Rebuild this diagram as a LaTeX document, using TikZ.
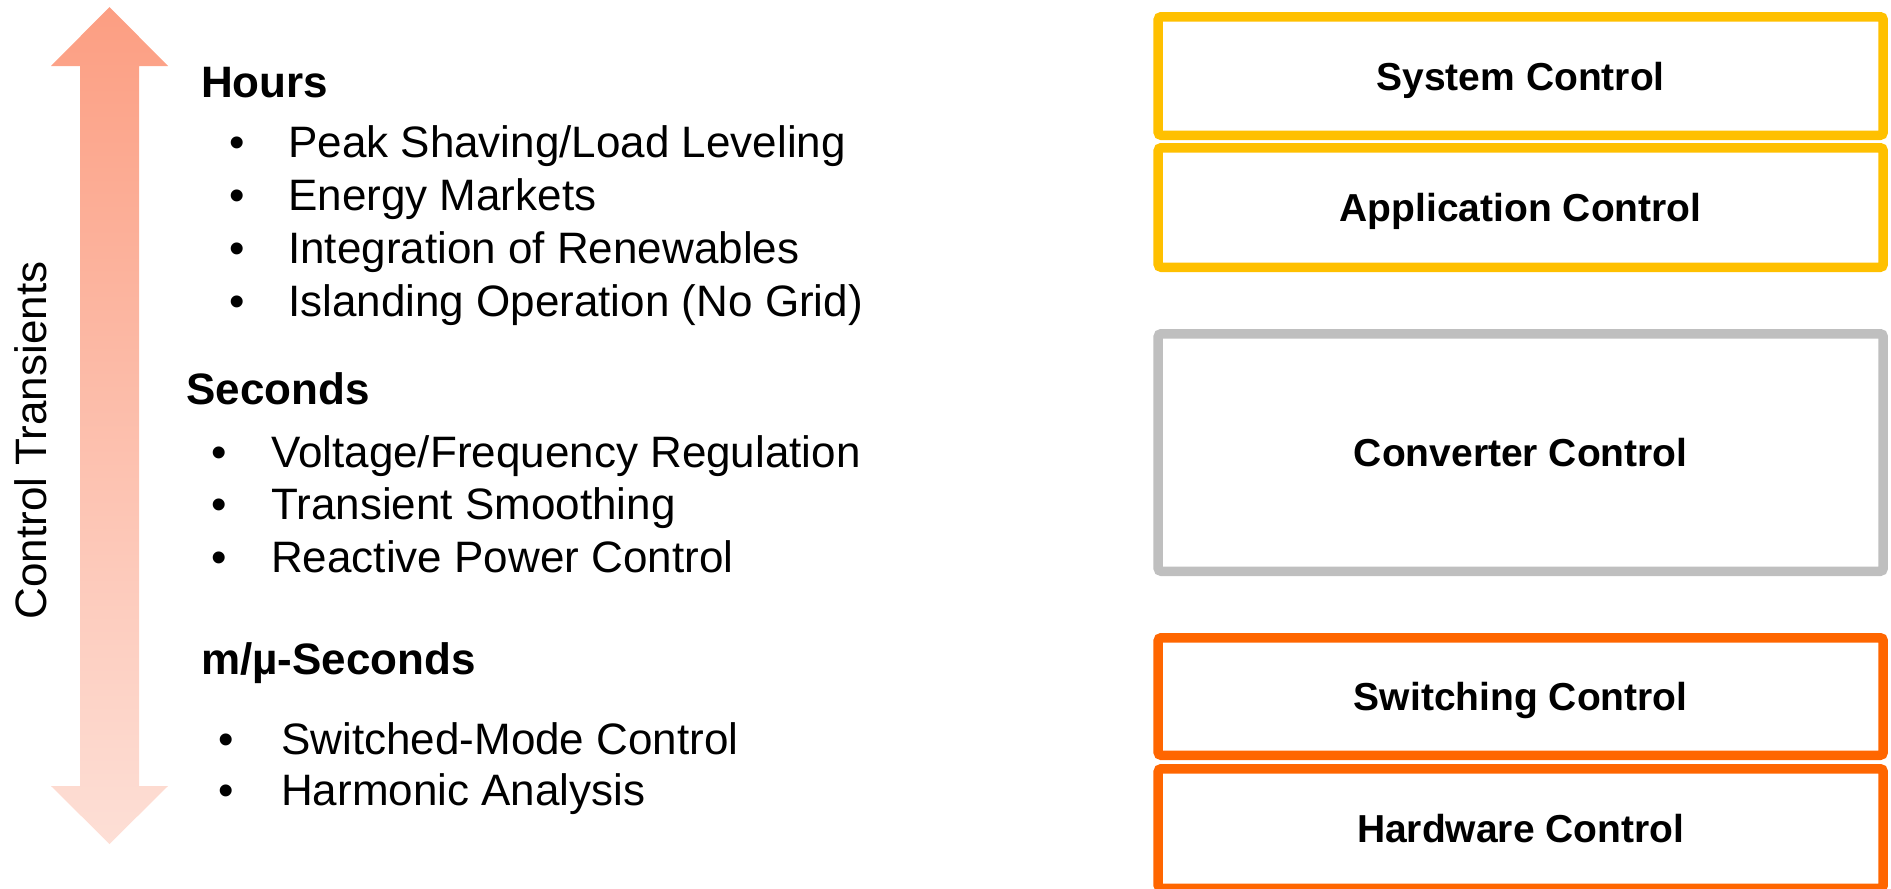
\documentclass[tikz,border=0pt]{standalone}
\usepackage{fontspec}
\setmainfont{Liberation Sans}
\definecolor{arrowtop}{RGB}{252,158,130}
\definecolor{arrowbot}{RGB}{253,223,214}
\definecolor{sysyellow}{RGB}{255,192,0}
\definecolor{convgray}{RGB}{191,191,191}
\definecolor{hworange}{RGB}{255,102,0}
\begin{document}
\begin{tikzpicture}[x=1pt,y=-1pt,
  heading/.style={anchor=base west, inner sep=0pt, font=\fontsize{44}{52}\selectfont\bfseries},
  item/.style={anchor=base west, inner sep=0pt, font=\fontsize{44}{52}\selectfont},
  bulletdot/.style={anchor=base, inner sep=0pt, font=\fontsize{44}{52}\selectfont},
  layer/.style={rectangle, rounded corners=3pt, draw=#1, line width=9.5pt,
    fill=white, minimum width=725pt, inner sep=0pt,
    text height=28pt, text depth=0pt,
    font=\bfseries\fontsize{39}{44}\selectfont},
]
\useasboundingbox (0,0) rectangle (1891,889);

% double-headed gradient arrow
\shade[top color=arrowtop, bottom color=arrowbot]
  (109.5,7) -- (168,66) -- (139,66) -- (139,786) -- (168,786) -- (109.5,844)
  -- (51,786) -- (80,786) -- (80,66) -- (51,66) -- cycle;
\node[rotate=90, anchor=base, inner sep=0pt, font=\fontsize{44}{52}\selectfont]
  (axis) at (46.5,440.5) {Control Transients};

% hours
\node[heading] (hours) at (201,97) {Hours};
\node[bulletdot] (hb1) at (237,157) {•};
\node[item] (h1) at (288,157) {Peak Shaving/Load Leveling};
\node[bulletdot] (hb2) at (237,210) {•};
\node[item] (h2) at (288,210) {Energy Markets};
\node[bulletdot] (hb3) at (237,263) {•};
\node[item] (h3) at (288,263) {Integration of Renewables};
\node[bulletdot] (hb4) at (237,316) {•};
\node[item] (h4) at (288,316) {Islanding Operation (No Grid)};

% seconds
\node[heading] (secs) at (186,404) {Seconds};
\node[bulletdot] (sb1) at (219,467) {•};
\node[item] (s1) at (271,467) {Voltage/Frequency Regulation};
\node[bulletdot] (sb2) at (219,519.5) {•};
\node[item] (s2) at (271,519.5) {Transient Smoothing};
\node[bulletdot] (sb3) at (219,572) {•};
\node[item] (s3) at (271,572) {Reactive Power Control};

% milli/micro seconds
\node[heading] (msecs) at (201,674) {m/µ-Seconds};
\node[bulletdot] (mb1) at (226,754) {•};
\node[item] (m1) at (281,754) {Switched-Mode Control};
\node[bulletdot] (mb2) at (226,805) {•};
\node[item] (m2) at (281,805) {Harmonic Analysis};

% control layers
\node[layer=sysyellow, minimum height=118.5pt] (sys) at (1520.7,76) {System Control};
\node[layer=sysyellow, minimum height=119.5pt] (app) at (1520.7,207.5) {Application Control};
\node[layer=convgray, minimum height=237.5pt] (conv) at (1520.7,452.5) {Converter Control};
\node[layer=hworange, minimum height=117.5pt] (sw) at (1520.7,696.5) {Switching Control};
\node[layer=hworange, minimum height=119.5pt] (hw) at (1520.7,828.5) {Hardware Control};
\end{tikzpicture}
\end{document}
